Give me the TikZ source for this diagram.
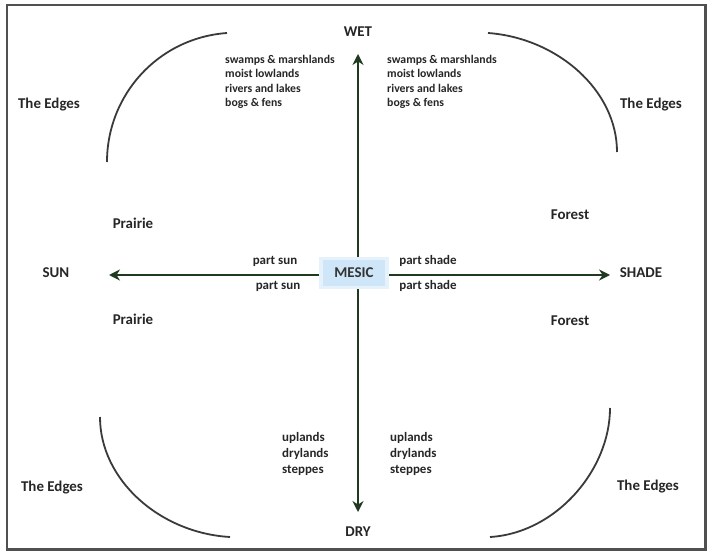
\documentclass[tikz,border=0pt]{standalone}
\usepackage{fontspec}
\setmainfont{Carlito}
\usetikzlibrary{arrows.meta}
\definecolor{axisgreen}{HTML}{1F3A1F}
\definecolor{arcgray}{HTML}{3A3A3A}
\definecolor{framegray}{HTML}{505050}
\definecolor{mesicblue}{HTML}{CFE6F8}
\definecolor{mesicglow}{HTML}{E6F2FB}
\tikzset{
  biglabel/.style={font=\fontsize{15}{18}\selectfont\bfseries, text=black!85, inner sep=0pt},
  smalllist/.style={font=\fontsize{11.8}{14.5}\selectfont\bfseries, text=black!85, align=left, anchor=west, inner sep=0pt},
  dryList/.style={font=\fontsize{13}{16}\selectfont\bfseries, text=black!85, align=left, anchor=west, inner sep=0pt},
  partlabel/.style={font=\fontsize{13}{16}\selectfont\bfseries, text=black!85, inner sep=0pt},
  axisline/.style={draw=axisgreen, line width=2.6pt, {Stealth[length=11bp,width=11bp]}-{Stealth[length=11bp,width=11bp]}},
  edgearc/.style={draw=arcgray, line width=1.8pt},
}
\begin{document}
\begin{tikzpicture}[x=1bp,y=-1bp]
\useasboundingbox (0,0) rectangle (707,552);
\fill[white] (0,0) rectangle (707,552);
\draw[framegray, line width=2.4pt] (7,5) rectangle (705.5,549.5);

% arcs
\draw[edgearc] (107,162) .. controls (107,95) and (158,38) .. (227,33);
\draw[edgearc] (488,33) .. controls (557,38) and (617,90) .. (617,152);
\draw[edgearc] (100,417) .. controls (100,480) and (160,533) .. (230,537);
\draw[edgearc] (610,408) .. controls (610,470) and (556,533) .. (490,537);

% axis end points
\coordinate (wettip) at (358,54);
\coordinate (drytip) at (358,512);
\coordinate (suntip) at (109,275);
\coordinate (shadetip) at (610,275);

\draw[axisline] (drytip) -- (wettip);
\draw[axisline] (suntip) -- (shadetip);

% center
\node[fill=mesicglow, minimum width=70bp, minimum height=32bp, inner sep=0pt] (glow) at (354,273) {};
\node[fill=mesicblue, minimum width=62bp, minimum height=25bp, inner sep=0pt, font=\fontsize{15}{18}\selectfont\bfseries, text=black!80] (mesic) at (354,273) {MESIC};

% axis labels
\node[biglabel] (wet) at (358,32) {WET};
\node[biglabel] (dry) at (358,532) {DRY};
\node[biglabel] (sun) at (56,273) {SUN};
\node[biglabel] (shade) at (641,273) {SHADE};

\node[biglabel] (pr1) at (133,223) {Prairie};
\node[biglabel] (pr2) at (133,319) {Prairie};
\node[biglabel] (fo1) at (570,215) {Forest};
\node[biglabel] (fo2) at (570,321) {Forest};

\node[biglabel] (e1) at (49,105) {The Edges};
\node[biglabel] (e2) at (651,105) {The Edges};
\node[biglabel] (e3) at (52,488) {The Edges};
\node[biglabel] (e4) at (648,487) {The Edges};

\node[partlabel] (ps1) at (275,261) {part sun};
\node[partlabel] (ps2) at (278,286) {part sun};
\node[partlabel] (psh1) at (428,261) {part shade};
\node[partlabel] (psh2) at (428,286) {part shade};

\node[smalllist] (wl) at (225,82) {swamps \& marshlands\\moist lowlands\\rivers and lakes\\bogs \& fens};
\node[smalllist] (wr) at (387,82) {swamps \& marshlands\\moist lowlands\\rivers and lakes\\bogs \& fens};

\node[dryList] (dl) at (282,454) {uplands\\drylands\\steppes};
\node[dryList] (dr) at (390,454) {uplands\\drylands\\steppes};
\end{tikzpicture}
\end{document}
